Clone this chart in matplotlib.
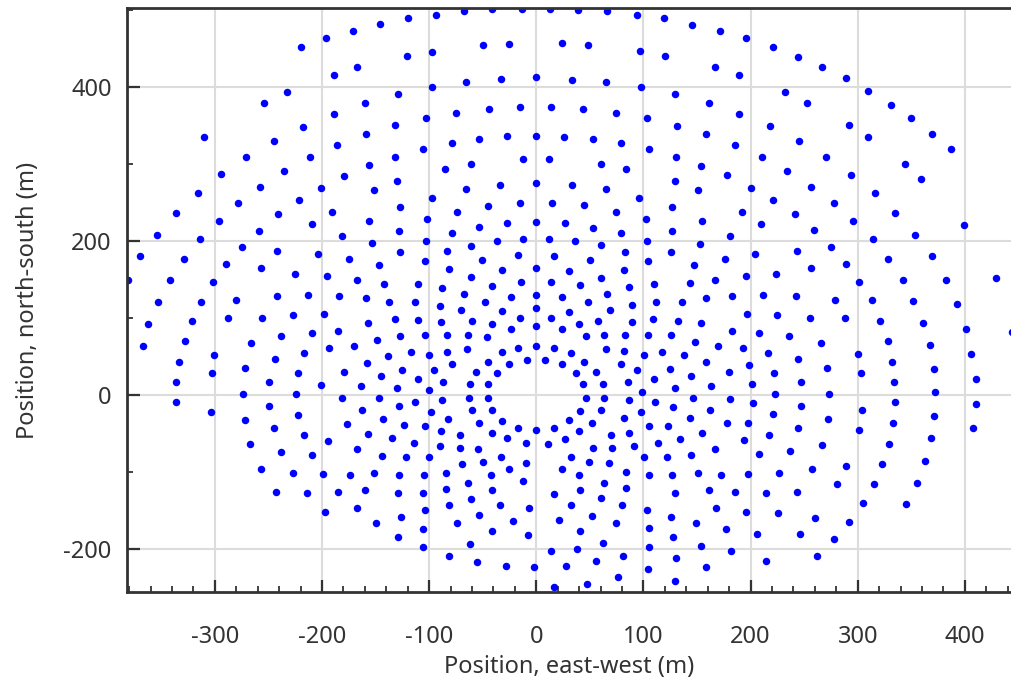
import matplotlib.pyplot as plt
import numpy as np
from matplotlib.ticker import MultipleLocator

# heliostat positions (east-west, north-south) in m,
# grouped by part of the field

# northern band
north_w = [(-196, 463), (-220, 452), (-189, 415), (-233, 393), (-254, 379), (-189, 365),
           (-218, 348), (-310, 334), (-245, 330), (-186, 324), (-271, 309), (-211, 308),
           (-235, 291), (-294, 286), (-179, 284), (-258, 270), (-201, 269), (-316, 262),
           (-221, 253)]
north_cw = [(-171, 472), (-146, 481), (-120, 489), (-94, 493), (-67, 498), (-41, 501),
            (-13, 501), (13, 501), (-121, 440), (-97, 445), (-50, 454), (-25, 455),
            (24, 456), (-167, 426), (-97, 400), (-66, 406), (-33, 410), (0, 412),
            (-129, 390), (-160, 379), (-75, 366), (-44, 371), (-15, 373), (14, 374),
            (-103, 359), (-132, 350), (-159, 339), (-79, 327), (-53, 332), (-27, 336),
            (0, 336), (26, 335), (-106, 319), (-132, 309), (-156, 298), (-85, 293),
            (-61, 300), (-12, 306), (12, 306), (-130, 277), (-151, 266), (-66, 267),
            (-34, 272), (0, 275), (-97, 256)]
north_ce = [(39, 500), (66, 498), (94, 493), (119, 489), (145, 480), (171, 472),
            (196, 463), (221, 452), (48, 454), (97, 446), (120, 440), (167, 426),
            (189, 415), (33, 409), (65, 406), (98, 399), (129, 390), (161, 379),
            (189, 365), (232, 393), (44, 371), (74, 366), (103, 359), (131, 349),
            (158, 339), (218, 349), (53, 332), (79, 327), (105, 319), (185, 324),
            (130, 309), (211, 309), (60, 299), (84, 293), (154, 297), (178, 285),
            (234, 290), (33, 272), (65, 267), (129, 277), (151, 266), (200, 269),
            (96, 256), (221, 253)]
north_e = [(244, 439), (267, 425), (289, 411), (310, 394), (331, 376), (350, 359),
           (369, 339), (387, 319), (253, 379), (292, 350), (245, 330), (310, 334),
           (270, 309), (344, 299), (359, 280), (294, 285), (256, 270), (316, 262)]

# middle band
mid_w = [(-278, 249), (-336, 236), (-241, 234), (-191, 237), (-296, 226), (-209, 221),
         (-354, 208), (-259, 213), (-314, 202), (-181, 206), (-370, 180), (-329, 176),
         (-275, 192), (-242, 186), (-204, 183), (-290, 170), (-257, 165), (-225, 157),
         (-195, 154), (-381, 149), (-342, 149), (-302, 147), (-242, 128), (-213, 129),
         (-353, 121), (-313, 121), (-280, 123), (-184, 128), (-227, 103), (-198, 105),
         (-362, 92), (-321, 96), (-288, 100), (-256, 99), (-238, 76), (-209, 80),
         (-185, 83), (-367, 63), (-328, 70), (-266, 67), (-193, 61), (-301, 52),
         (-244, 46), (-217, 54), (-333, 43), (-272, 35), (-222, 28), (-303, 28),
         (-179, 29), (-336, 17), (-249, 16), (-201, 13), (-274, 1), (-224, 1)]
mid_cw = [(-127, 244), (-45, 245), (-15, 249), (15, 249), (-156, 226), (-102, 228),
          (-74, 237), (-128, 213), (-79, 210), (-53, 218), (-27, 223), (0, 224),
          (27, 223), (-175, 176), (-153, 197), (-103, 199), (-127, 185), (-83, 186),
          (-61, 193), (-37, 199), (-12, 202), (12, 202), (-147, 168), (-104, 173),
          (-51, 175), (-17, 182), (17, 180), (-167, 149), (-142, 144), (-110, 144),
          (-81, 163), (-61, 153), (-32, 162), (0, 164), (-88, 139), (-67, 131),
          (-41, 141), (-14, 147), (14, 146), (-159, 126), (-137, 120), (-113, 120),
          (-90, 115), (-48, 120), (-24, 127), (0, 130), (24, 127), (-70, 110),
          (-32, 109), (0, 112), (-157, 93), (-132, 98), (-110, 97), (-89, 95),
          (-60, 96), (-41, 92), (-15, 99), (14, 99), (-170, 63), (-149, 71),
          (-127, 76), (-104, 77), (-83, 77), (-64, 77), (-46, 75), (-24, 86),
          (0, 89), (24, 86), (-138, 50), (-117, 56), (-100, 51), (-83, 56),
          (-65, 59), (-32, 55), (-17, 61), (0, 63), (17, 61), (-158, 41),
          (-125, 32), (-95, 32), (-79, 40), (-45, 42), (-25, 40), (-9, 45),
          (8, 45), (24, 40), (-145, 24), (-110, 21), (-87, 17), (-56, 29),
          (-37, 28), (-164, 12), (-130, 9), (-100, 6), (-62, 14), (-45, 14)]
mid_ce = [(45, 246), (74, 237), (127, 244), (192, 237), (53, 216), (79, 210),
          (102, 228), (127, 213), (155, 226), (181, 206), (210, 221), (36, 199),
          (60, 194), (103, 199), (153, 196), (83, 185), (126, 185), (204, 183),
          (176, 176), (31, 161), (50, 175), (82, 162), (104, 174), (147, 168),
          (224, 157), (60, 152), (41, 143), (87, 140), (110, 144), (143, 145),
          (167, 149), (196, 154), (66, 131), (48, 120), (89, 116), (112, 120),
          (136, 121), (158, 125), (183, 128), (212, 130), (31, 108), (69, 110),
          (58, 96), (89, 94), (109, 98), (132, 96), (154, 93), (197, 105),
          (225, 103), (40, 92), (46, 76), (63, 78), (83, 77), (104, 77),
          (126, 77), (148, 69), (183, 83), (208, 80), (32, 54), (65, 59),
          (82, 57), (101, 51), (117, 55), (138, 51), (170, 63), (193, 61),
          (216, 54), (45, 43), (79, 40), (94, 32), (125, 33), (158, 42),
          (180, 30), (199, 38), (222, 28), (37, 28), (56, 29), (110, 21),
          (144, 24), (163, 12), (44, 14), (62, 14), (86, 16), (201, 14),
          (129, 9), (99, 4), (223, 1)]
mid_e = [(278, 249), (241, 234), (259, 214), (296, 226), (335, 236), (353, 208),
         (399, 220), (314, 202), (243, 186), (275, 192), (328, 176), (369, 180),
         (256, 165), (289, 170), (301, 147), (342, 149), (382, 149), (429, 152),
         (242, 128), (279, 123), (313, 123), (352, 122), (393, 118), (255, 99),
         (288, 99), (321, 96), (361, 93), (401, 86), (236, 76), (266, 67),
         (328, 70), (367, 64), (444, 81), (244, 46), (300, 53), (332, 43),
         (406, 53), (271, 35), (303, 28), (371, 33), (410, 20), (247, 16),
         (334, 17), (273, 1), (372, 4)]

# southern band
south_w = [(-336, -10), (-304, -22), (-181, -4), (-249, -14), (-272, -33), (-222, -26),
           (-245, -43), (-177, -38), (-217, -52), (-267, -64), (-194, -60), (-238, -74),
           (-209, -78), (-257, -96), (-227, -101), (-199, -103), (-243, -126),
           (-214, -127), (-185, -126), (-197, -152)]
south_cw = [(-147, -4), (-113, -9), (-88, -7), (-63, -4), (-45, -4), (-128, -15),
            (-163, -20), (-98, -22), (-60, -20), (-41, -20), (-143, -31), (-123, -39),
            (-104, -40), (-82, -31), (-53, -36), (-32, -34), (-17, -43), (0, -46),
            (17, -43), (-157, -51), (-135, -56), (-114, -62), (-89, -47), (-71, -52),
            (-41, -49), (-27, -56), (-10, -62), (11, -64), (27, -57), (-167, -71),
            (-144, -79), (-122, -81), (-100, -81), (-90, -67), (-71, -69), (-54, -70),
            (-33, -81), (-10, -89), (-69, -90), (-50, -87), (-174, -104), (-151, -102),
            (-128, -104), (-105, -104), (-84, -101), (-42, -104), (-25, -97), (24, -97),
            (-160, -124), (-129, -128), (-106, -127), (-84, -122), (-64, -114),
            (-41, -123), (-12, -112), (17, -129), (-167, -147), (-126, -159),
            (-104, -150), (-81, -143), (-61, -135), (-34, -143), (-7, -147),
            (-150, -167), (-74, -166), (-53, -156), (-22, -164), (21, -163),
            (-129, -184), (-106, -174), (-41, -177), (-8, -182), (-62, -194),
            (-106, -198), (14, -203), (-81, -209), (-55, -217), (-28, -222),
            (-2, -224), (28, -222), (17, -249)]
south_ce = [(46, -4), (63, -4), (87, -7), (111, -10), (146, -4), (181, -5),
            (202, -11), (31, -33), (41, -21), (60, -20), (98, -22), (128, -16),
            (162, -20), (40, -47), (52, -36), (82, -30), (105, -40), (123, -40),
            (143, -30), (178, -37), (198, -36), (221, -25), (70, -52), (87, -49),
            (114, -62), (134, -57), (155, -50), (194, -59), (217, -52), (32, -81),
            (53, -69), (71, -69), (91, -66), (167, -70), (49, -87), (68, -89),
            (101, -81), (122, -81), (144, -78), (208, -77), (40, -104), (84, -100),
            (105, -104), (127, -104), (151, -101), (172, -104), (198, -103),
            (227, -101), (63, -114), (84, -121), (41, -123), (129, -128),
            (161, -124), (185, -126), (214, -128), (32, -143), (60, -134),
            (80, -143), (103, -149), (168, -147), (196, -152), (226, -154),
            (52, -157), (74, -167), (126, -159), (149, -166), (177, -174),
            (206, -181), (41, -177), (105, -173), (128, -184), (62, -193),
            (105, -198), (154, -196), (182, -203), (38, -200), (81, -209),
            (130, -212), (214, -216), (56, -216), (104, -226), (158, -224),
            (76, -237), (47, -245), (129, -242)]
south_e = [(247, -14), (304, -20), (335, -10), (410, -12), (371, -27), (272, -32),
           (244, -43), (301, -46), (333, -37), (408, -43), (267, -65), (329, -64),
           (368, -56), (237, -73), (257, -96), (289, -92), (323, -90), (363, -86),
           (281, -116), (315, -116), (355, -114), (243, -126), (305, -140),
           (345, -142), (260, -160), (292, -165), (246, -181), (278, -187),
           (262, -209)]

fields = [north_w, north_cw, north_ce, north_e,
          mid_w, mid_cw, mid_ce, mid_e,
          south_w, south_cw, south_ce, south_e]
pts = np.array([p for f in fields for p in f], dtype=float)

plt.rcParams['font.family'] = ['Noto Sans', 'DejaVu Sans']
plt.rcParams['axes.unicode_minus'] = False
txt_col = '#333333'

fig = plt.figure(figsize=(10.12, 6.84), dpi=100)
ax = fig.add_axes([127 / 1012, 1 - 592 / 684, 1 - 127 / 1012, (592 - 8) / 684])

ax.plot(pts[:, 0], pts[:, 1], 'o', color='#0000ff', ms=5.4, mew=0)

ax.set_xlim(-382, 444)
ax.set_ylim(-256, 502)
ax.xaxis.set_major_locator(MultipleLocator(100))
ax.xaxis.set_minor_locator(MultipleLocator(20))
ax.yaxis.set_major_locator(MultipleLocator(200))
ax.yaxis.set_minor_locator(MultipleLocator(100))

ax.grid(True, which='major', color='#dcdcdc', lw=1.5)
ax.set_axisbelow(True)

ax.tick_params(which='both', direction='in', color=txt_col,
               labelsize=17, labelcolor=txt_col)
ax.tick_params(which='major', length=9, width=1.6)
ax.tick_params(which='minor', length=4, width=1.3)
ax.tick_params(axis='x', which='major', pad=24)
ax.tick_params(axis='y', which='major', pad=11)

for s in ['left', 'bottom', 'top']:
    ax.spines[s].set_linewidth(2)
    ax.spines[s].set_color(txt_col)
ax.spines['right'].set_visible(False)

ax.set_xlabel('Position, east-west (m)', fontsize=17, color=txt_col, labelpad=4)
ax.set_ylabel('Position, north-south (m)', fontsize=17, color=txt_col, labelpad=17)

fig.savefig('out.png', dpi=100)
